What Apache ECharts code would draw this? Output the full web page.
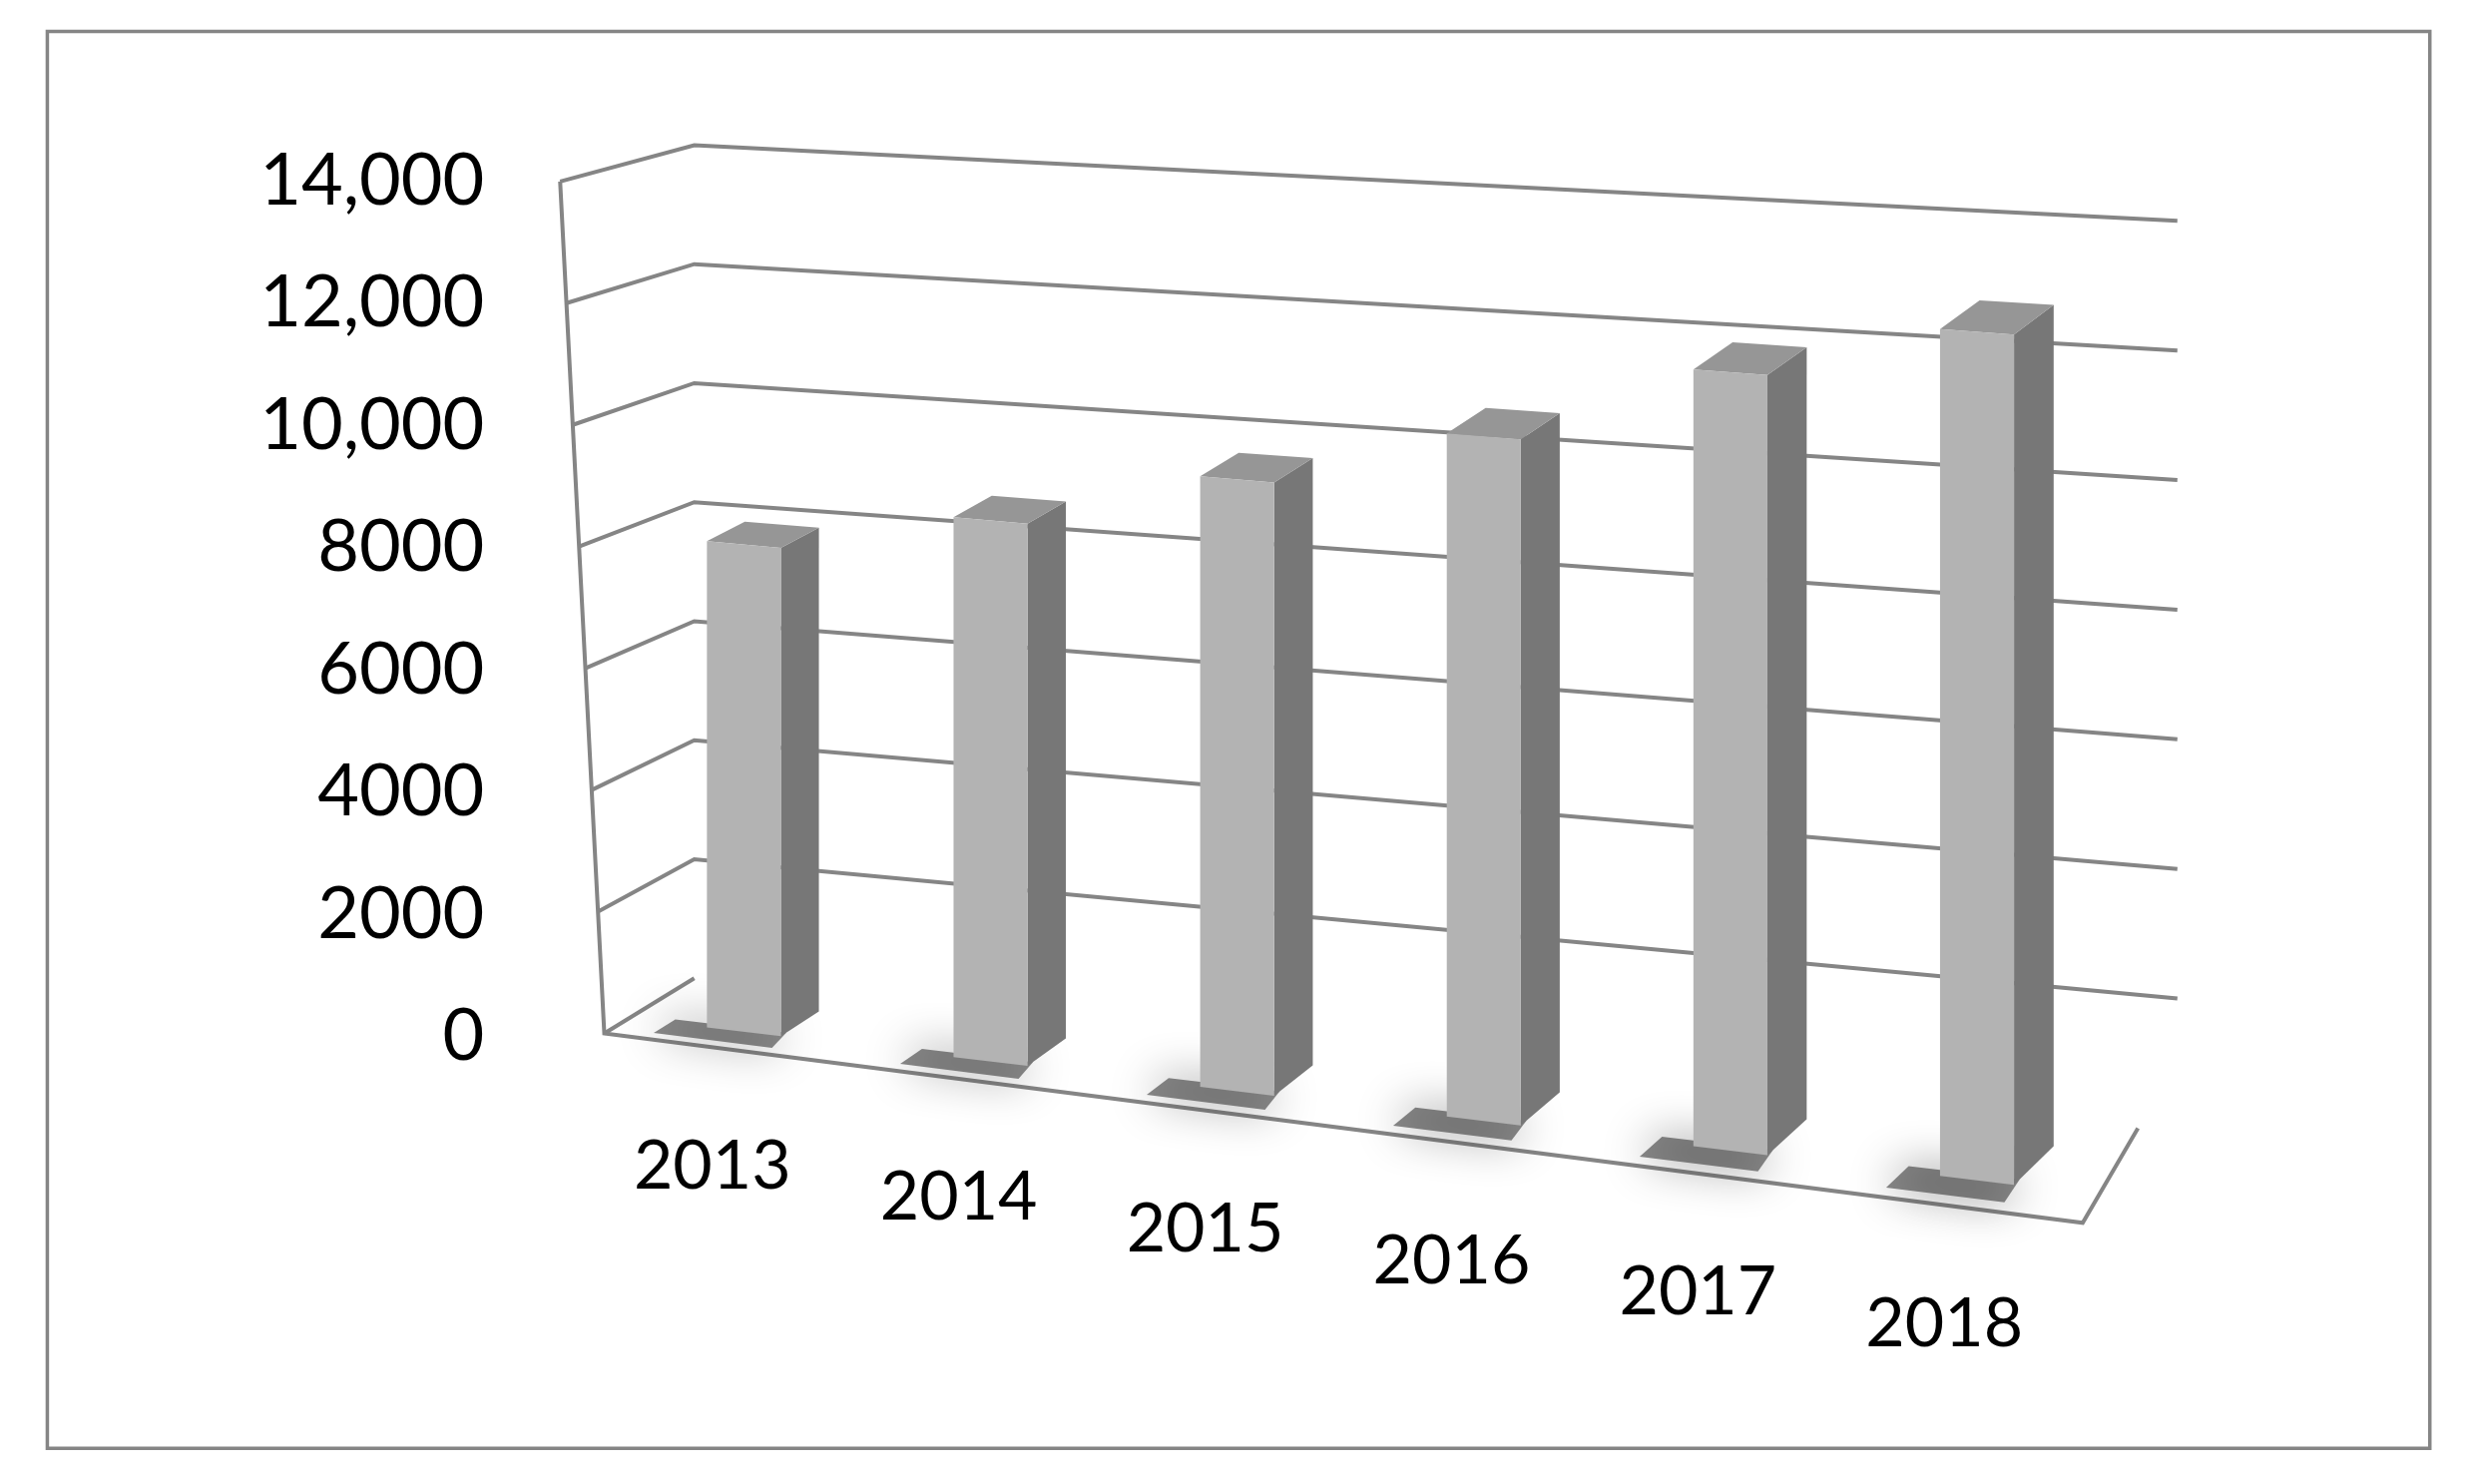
<!DOCTYPE html>
<html>
<head>
<meta charset="utf-8">
<script src="https://cdn.jsdelivr.net/npm/echarts@6/dist/echarts.min.js"></script>
<style>html,body{margin:0;padding:0;background:#fff}#chart{width:2479px;height:1487px}</style>
</head>
<body>
<div id="chart"></div>
<script>
var years = ['2013', '2014', '2015', '2016', '2017', '2018'];
var values = [8000, 8750, 9750, 10750, 12050, 12950];
var ticks = [0, 2000, 4000, 6000, 8000, 10000, 12000, 14000];

var myChart = echarts.init(document.getElementById('chart'));
var s = 2479 / 1568;
var lineColor = '#858585';

// perspective box: u along categories, h = value share, d = depth (0 back wall, 1 front)
function P(u, h, d) {
	var xb = 440 + 940 * u, yb = 620 + 95 * u, hb = 528 + 47 * u;
	var xf = 383 + 937 * u, yf = 655 + 120 * u, hf = 540 + 50 * u;
	var x = xb + (xf - xb) * d;
	var y = yb + (yf - yb) * d - h * (hb + (hf - hb) * d);
	return [x * s, y * s];
}
function frontLeft(h) {
	return [(383 - 28 * h) * s, (655 - 540 * h) * s];
}
function toUH(api, i, v) {
	var p = api.coord([i, v]);
	var y0 = api.coord([0, 0])[1], y1 = api.coord([0, 14000])[1];
	return [(p[0] - 440 * s) / (940 * s), (y0 - p[1]) / (y0 - y1)];
}

var option = {
	animation: false,
	grid: {
		left: 440 * s,
		right: 2479 - 1380 * s,
		top: 115 * s,
		bottom: 1487 - 657 * s
	},
	xAxis: {
		type: 'category',
		data: years,
		show: false
	},
	yAxis: {
		type: 'value',
		min: 0,
		max: 14000,
		interval: 2000,
		axisLine: { show: false },
		axisTick: { show: false },
		splitLine: { show: false },
		axisLabel: {
			margin: 133 * s,
			fontSize: 72,
			fontFamily: 'Lato',
			color: '#000',
			formatter: function(v) {
				return v >= 10000 ? echarts.format.addCommas(v) : String(v);
			}
		}
	},
	graphic: [{
		type: 'rect',
		shape: { x: 30 * s, y: 20 * s, width: 1510 * s, height: 898 * s },
		style: { fill: 'none', stroke: lineColor, lineWidth: 3.5 }
	}],
	series: [{
		type: 'custom',
		z: 1,
		data: ticks.map(function(t) { return [0, t]; }),
		renderItem: function(params, api) {
			var h = toUH(api, 0, api.value(1))[1];
			var children = [];
			var ls = { stroke: lineColor, lineWidth: 4, fill: 'none' };
			children.push({ type: 'polyline', shape: { points: h > 0 ? [frontLeft(h), P(0, h, 0), P(1, h, 0)] : [frontLeft(0), P(0, 0, 0)] }, style: ls });
			if (params.dataIndex === 0) {
				children.push({ type: 'polyline', shape: { points: [frontLeft(1), frontLeft(0), P(1, 0, 1), [1355 * s, 715 * s]] }, style: ls });
			}
			return { type: 'group', children: children };
		}
	}, {
		type: 'custom',
		z: 2,
		data: values.map(function(v, i) { return [i, v]; }),
		renderItem: function(params, api) {
			var i = api.value(0);
			var uh = toUH(api, i, api.value(1));
			var c = uh[0] - 0.006, h = uh[1], w = 0.025, d1 = 0.72, d0 = 0.3;
			var lab = P(c, 0, 1);
			return {
				type: 'group',
				children: [{
					type: 'polygon',
					shape: { points: [P(c - w - 0.025, 0, 0.9), P(c + w + 0.005, 0, 0.9), P(c + w, 0, 0.66), P(c - w - 0.025, 0, 0.66)] },
					style: { fill: 'rgba(40,40,40,0.55)', shadowBlur: 45, shadowColor: 'rgba(0,0,0,0.8)' }
				}, {
					type: 'polygon',
					shape: { points: [P(c + w, 0, d1), P(c + w, 0, d0), P(c + w, h, d0), P(c + w, h, d1)] },
					style: { fill: '#777777' }
				}, {
					type: 'polygon',
					shape: { points: [P(c - w, h, d1), P(c + w, h, d1), P(c + w, h, d0), P(c - w, h, d0)] },
					style: { fill: '#969696' }
				}, {
					type: 'polygon',
					shape: { points: [P(c - w, 0, d1), P(c + w, 0, d1), P(c + w, h, d1), P(c - w, h, d1)] },
					style: { fill: '#b3b3b3' }
				}, {
					type: 'text',
					x: lab[0] - 4 * s,
					y: lab[1] + 75 * s,
					style: {
						text: years[i],
						fontSize: 68,
						fontFamily: 'Lato',
						fill: '#000',
						align: 'center',
						verticalAlign: 'middle'
					}
				}]
			};
		}
	}]
};
myChart.setOption(option);
</script>
</body>
</html>
